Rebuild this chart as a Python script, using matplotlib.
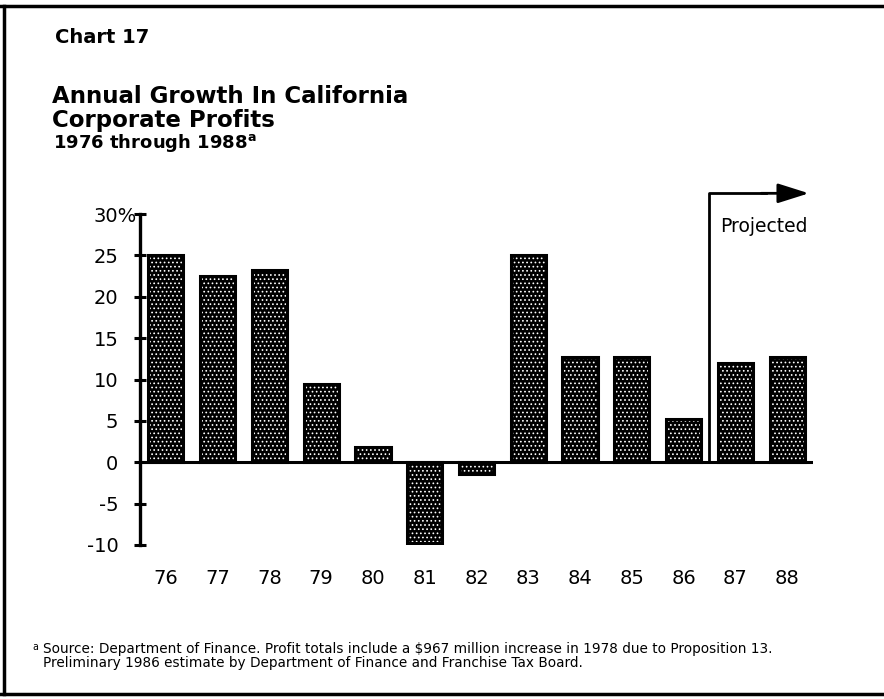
import matplotlib
matplotlib.use("Agg")
import matplotlib.pyplot as plt
from matplotlib.lines import Line2D
from matplotlib.transforms import ScaledTranslation
import numpy as np

plt.rcParams['font.family'] = ['DejaVu Sans']
plt.rcParams['hatch.linewidth'] = 0.7

years = ["76", "77", "78", "79", "80", "81", "82", "83", "84", "85", "86", "87", "88"]
growth = [25.0, 22.5, 23.2, 9.4, 1.8, -9.8, -1.4, 25.0, 12.7, 12.7, 5.2, 12.0, 12.7]
ytick_vals = [-10, -5, 0, 5, 10, 15, 20, 25, 30]
ytick_text = ["-10", "-5", "0", "5", "10", "15", "20", "25", "30%"]

W, H = 884, 699
fig = plt.figure(figsize=(W / 100, H / 100), dpi=100)
fig.patch.set_facecolor('white')

def fy(p):
    return 1 - p / H

# axes: spine at x=140px, zero line ends at 813px, 30 at y=214px, -10 at y=545px
ax = fig.add_axes([140 / W, fy(545), (813 - 140) / W, (545 - 214) / H])
x = np.arange(len(years))

# dotted fill: dark bars with white dot hatch, then black outline on top
ax.bar(x, growth, width=0.68, color='black', edgecolor='white', hatch='....', lw=0, zorder=2)
ax.bar(x, growth, width=0.68, fill=False, edgecolor='black', lw=2.2, zorder=3)

ax.set_xlim(-0.5, 12.5)
ax.set_ylim(-10, 30)
ax.axhline(0, color='black', lw=2.2, zorder=4)

for s in ['top', 'right', 'bottom']:
    ax.spines[s].set_visible(False)
ax.spines['left'].set_linewidth(2.4)

ax.set_yticks(ytick_vals)
ax.set_yticklabels(ytick_text, fontsize=14)
ax.tick_params(axis='y', direction='inout', length=9, width=2.2, pad=11)
ax.set_xticks(x)
ax.set_xticklabels(years, fontsize=14)
ax.tick_params(axis='x', length=0, pad=17)

# let the % stick out past the numbers
lab = ax.get_yticklabels()[-1]
lab.set_horizontalalignment('left')
lab.set_transform(lab.get_transform() + ScaledTranslation(-25 / 100, 0, fig.dpi_scale_trans))

# projected marker
ax.plot([10.5, 10.5, 11.6], [0, 32.5, 32.5], color='black', lw=2, clip_on=False, zorder=5)
ax.annotate('', xy=(12.42, 32.5), xytext=(11.5, 32.5), annotation_clip=False,
            arrowprops=dict(arrowstyle='-|>,head_length=1.9,head_width=0.6',
                            mutation_scale=10, color='black', lw=2, shrinkA=0, shrinkB=0))
ax.text(10.71, 27.8, "Projected", fontsize=13.5, ha='left', va='baseline')

# titles
fig.text(55 / W, fy(43), "Chart 17", fontsize=14, fontweight='bold', va='baseline')
fig.text(52 / W, fy(103), "Annual Growth In California", fontsize=16.5, fontweight='bold', va='baseline')
fig.text(52 / W, fy(127), "Corporate Profits", fontsize=16.5, fontweight='bold', va='baseline')
fig.text(53 / W, fy(148), "1976 through 1988$^{\\mathregular{a}}$", fontsize=13, fontweight='bold', va='baseline')

# footnote
fig.text(32 / W, fy(653), "$^{\\mathregular{a}}$", fontsize=9.8, va='baseline')
fig.text(43 / W, fy(653), "Source: Department of Finance. Profit totals include a $967 million increase in 1978 due to Proposition 13.",
         fontsize=9.8, va='baseline')
fig.text(43 / W, fy(667), "Preliminary 1986 estimate by Department of Finance and Franchise Tax Board.",
         fontsize=9.8, va='baseline')

# page frame (top, left, bottom)
fig.add_artist(Line2D([0, 1], [fy(6), fy(6)], transform=fig.transFigure, color='black', lw=2.5))
fig.add_artist(Line2D([4 / W, 4 / W], [fy(6), fy(694)], transform=fig.transFigure, color='black', lw=2.5))
fig.add_artist(Line2D([0, 1], [fy(694), fy(694)], transform=fig.transFigure, color='black', lw=2.5))

fig.savefig("out.png", dpi=100)
